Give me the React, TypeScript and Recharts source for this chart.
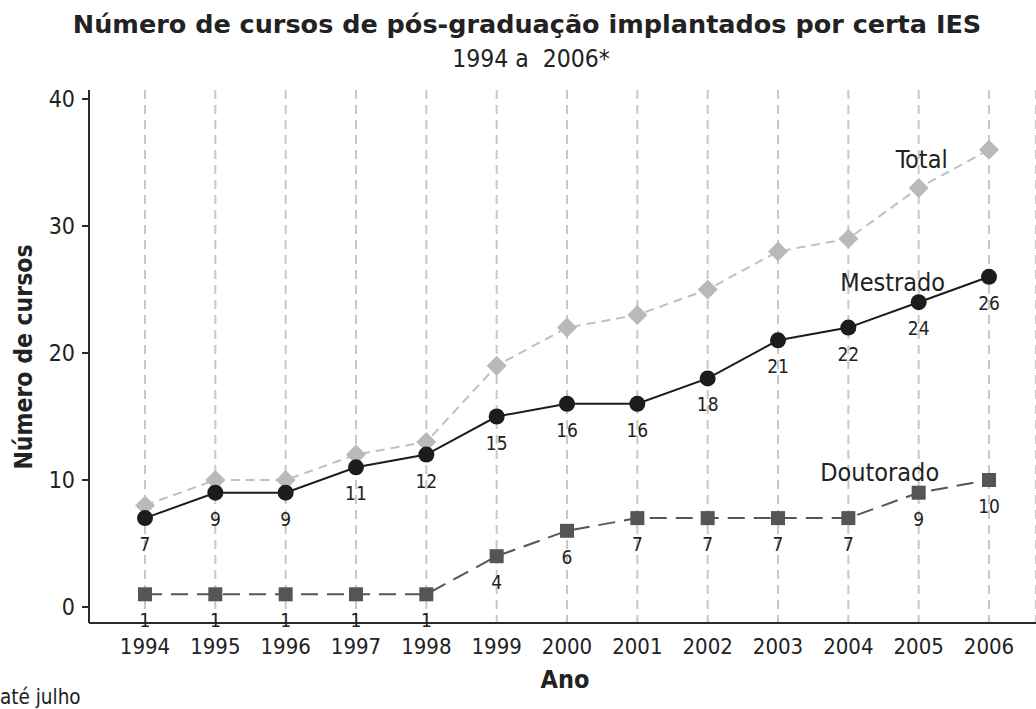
import React from "react";
import {
  LineChart,
  Line,
  XAxis,
  YAxis,
  CartesianGrid,
  LabelList,
} from "recharts";

const years = [1994, 1995, 1996, 1997, 1998, 1999, 2000, 2001, 2002, 2003, 2004, 2005, 2006];
const totalValues = [8, 10, 10, 12, 13, 19, 22, 23, 25, 28, 29, 33, 36];
const mestradoValues = [7, 9, 9, 11, 12, 15, 16, 16, 18, 21, 22, 24, 26];
const doutoradoValues = [1, 1, 1, 1, 1, 4, 6, 7, 7, 7, 7, 9, 10];
const yTicks = [0, 10, 20, 30, 40];
const seriesNames = { total: "Total", mestrado: "Mestrado", doutorado: "Doutorado" };

const data = years.map((y, i) => ({
  year: y,
  total: totalValues[i],
  mestrado: mestradoValues[i],
  doutorado: doutoradoValues[i],
}));

const FONT = "'DejaVu Sans Condensed', 'DejaVu Sans', sans-serif";
const FONT_WIDE = "'DejaVu Sans', sans-serif";
const TXT = "#222";

const Diamond = (props: any) => {
  const { cx, cy, index } = props;
  const s = 10;
  return (
    <polygon
      key={`d-${index}`}
      points={`${cx},${cy - s} ${cx + s},${cy} ${cx},${cy + s} ${cx - s},${cy}`}
      fill="#b9b9b9"
      stroke="none"
    />
  );
};

const Circle = (props: any) => {
  const { cx, cy, index } = props;
  return <circle key={`c-${index}`} cx={cx} cy={cy} r={8} fill="#1c1c1c" />;
};

const Square = (props: any) => {
  const { cx, cy, index } = props;
  const s = 7;
  return <rect key={`s-${index}`} x={cx - s} y={cy - s} width={2 * s} height={2 * s} fill="#555" />;
};

const valueLabel = (props: any) => {
  const { x, y, value, index } = props;
  return (
    <text
      key={`v-${index}-${x}`}
      x={x}
      y={y + 26}
      textAnchor="middle"
      dominantBaseline="central"
      fontFamily={FONT}
      fontSize={19}
      fill={TXT}
    >
      {value}
    </text>
  );
};

const nameLabel = (name: string, dx: number, dy: number, at: number) => (props: any) => {
  const { x, y, index } = props;
  if (index !== at) return null;
  return (
    <text
      key={`n-${name}`}
      x={x + dx}
      y={y + dy}
      textAnchor="middle"
      dominantBaseline="central"
      fontFamily={FONT}
      fontSize={25}
      fill={TXT}
    >
      {name}
    </text>
  );
};

export default function App() {
  return (
    <div style={{ position: "absolute", left: 0, top: 0, width: 1036, height: 709, background: "#fff", overflow: "hidden" }}>
      <LineChart
        width={1036}
        height={709}
        data={data}
        margin={{ top: 90, right: 0, bottom: 0, left: 0 }}
      >
        <CartesianGrid
          horizontal={false}
          vertical={true}
          stroke="#c8c8c8"
          strokeWidth={2}
          strokeDasharray="9 6"
        />
        <XAxis
          dataKey="year"
          type="number"
          domain={[1993.204, 2006.668]}
          ticks={years}
          allowDataOverflow
          height={86}
          tickLine={false}
          tickSize={0}
          tickMargin={15}
          axisLine={{ stroke: "#2a2a2a", strokeWidth: 2 }}
          tick={{ fontFamily: FONT, fontSize: 22, fill: TXT }}
          interval={0}
        />
        <XAxis
          xAxisId="top"
          orientation="top"
          dataKey="year"
          type="number"
          domain={[1993.204, 2006.668]}
          height={0}
          tick={false}
          tickLine={false}
          axisLine={{ stroke: "#2a2a2a", strokeWidth: 2 }}
        />
        <YAxis
          type="number"
          domain={[-1.26, 40.71]}
          ticks={yTicks}
          allowDataOverflow
          width={89}
          tickSize={7}
          tickMargin={7}
          tickLine={{ stroke: "#2a2a2a", strokeWidth: 2 }}
          axisLine={{ stroke: "#2a2a2a", strokeWidth: 2 }}
          tick={{ fontFamily: FONT, fontSize: 23, fill: TXT }}
        />
        <Line
          dataKey="doutorado"
          stroke="#555"
          strokeWidth={2}
          strokeDasharray="17 9"
          dot={Square}
          activeDot={false}
          isAnimationActive={false}
        >
          <LabelList dataKey="doutorado" content={valueLabel} />
          <LabelList dataKey="doutorado" content={nameLabel(seriesNames.doutorado, -39, -20, 11)} />
        </Line>
        <Line
          dataKey="total"
          stroke="#c0c0c0"
          strokeWidth={2}
          strokeDasharray="9 6"
          dot={Diamond}
          activeDot={false}
          isAnimationActive={false}
        >
          <LabelList dataKey="total" content={nameLabel(seriesNames.total, 3, -28, 11)} />
        </Line>
        <Line
          dataKey="mestrado"
          stroke="#1c1c1c"
          strokeWidth={2}
          dot={Circle}
          activeDot={false}
          isAnimationActive={false}
        >
          <LabelList dataKey="mestrado" content={valueLabel} />
          <LabelList dataKey="mestrado" content={nameLabel(seriesNames.mestrado, -26, -20, 11)} />
        </Line>
      </LineChart>
      <svg
        width={1036}
        height={709}
        style={{ position: "absolute", left: 0, top: 0, pointerEvents: "none" }}
      >
        <text x={527} y={33} textAnchor="middle" fontFamily={FONT_WIDE} fontWeight="bold" fontSize={25.5} fill={TXT}>
          Número de cursos de pós-graduação implantados por certa IES
        </text>
        <text x={531} y={67} textAnchor="middle" fontFamily={FONT} fontSize={24.5} fill={TXT} style={{ whiteSpace: "pre" }}>
          {"1994 a  2006*"}
        </text>
        <text
          x={23}
          y={357}
          textAnchor="middle"
          dominantBaseline="central"
          fontFamily={FONT}
          fontWeight="bold"
          fontSize={24.5}
          fill={TXT}
          transform="rotate(-90, 23, 357)"
        >
          Número de cursos
        </text>
        <text x={565} y={679} textAnchor="middle" dominantBaseline="central" fontFamily={FONT} fontWeight="bold" fontSize={25} fill={TXT}>
          Ano
        </text>
        <text x={0} y={704} fontFamily={FONT} fontSize={20.5} fill={TXT}>
          até julho
        </text>
      </svg>
    </div>
  );
}
